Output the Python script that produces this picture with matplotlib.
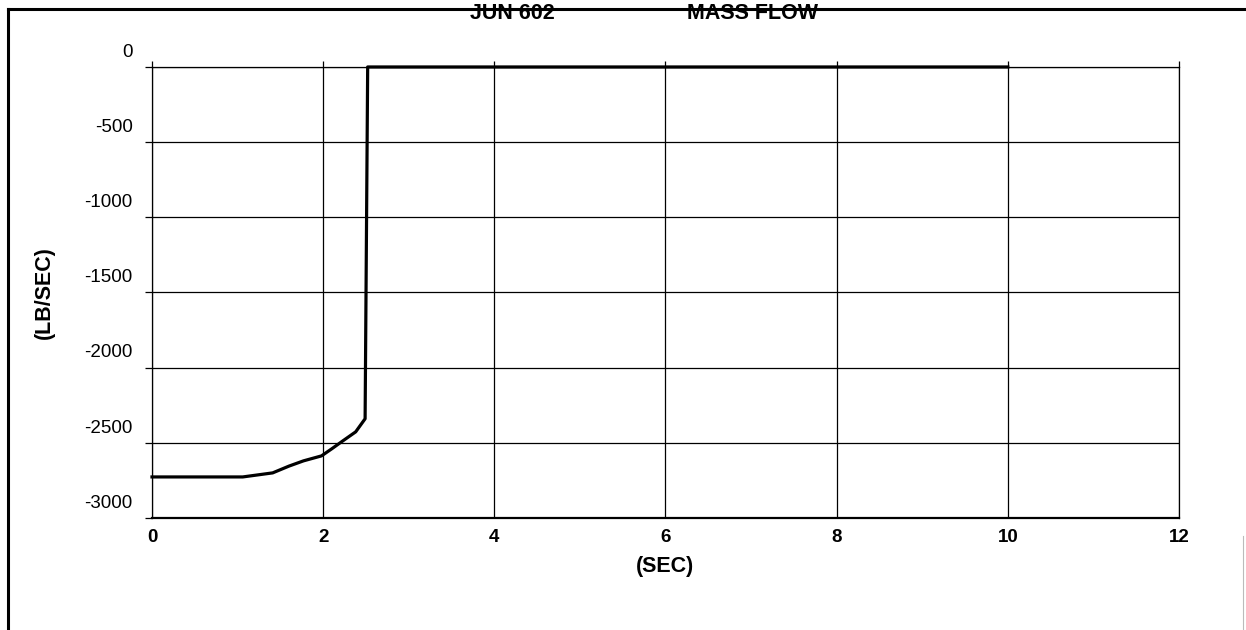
import matplotlib.pyplot as plt
import matplotlib.transforms as mtransforms
from matplotlib.lines import Line2D

plt.rcParams['font.family'] = ['Liberation Sans', 'DejaVu Sans']

# mass flow trace
time_s = [0.0, 0.5, 1.06, 1.41, 1.60, 1.77, 1.98, 2.10, 2.23, 2.38, 2.49, 2.52, 4.0, 6.0, 8.0, 10.0]
flow_lbs = [-2727, -2727, -2727, -2700, -2655, -2620, -2587, -2540, -2487, -2427, -2340, 0, 0, 0, 0, 0]

x_ticks = [0, 2, 4, 6, 8, 10, 12]
y_ticks = [0, -500, -1000, -1500, -2000, -2500, -3000]

fig = plt.figure(figsize=(12.46, 6.30), dpi=100)
ax = fig.add_axes([0.122, 0.1778, 0.8242, 0.7159])

ax.plot(time_s, flow_lbs, color='black', linewidth=2.3, solid_joinstyle='round',
        clip_on=False, zorder=3)

ax.set_xlim(0, 12)
ax.set_ylim(-3000, 0)
ax.set_xticks(x_ticks)
ax.set_yticks(y_ticks)
ax.set_yticklabels([str(v) for v in y_ticks])
ax.grid(True, color='black', linewidth=0.9)

for side in ['left', 'right', 'top']:
    ax.spines[side].set_linewidth(0.9)
ax.spines['bottom'].set_linewidth(1.6)

ax.tick_params(axis='x', bottom=False, top=True, direction='out', length=4, width=0.9,
               pad=4, labelsize=13.5)
ax.tick_params(axis='y', left=True, direction='out', length=5, width=0.9,
               pad=9, labelsize=13.5)
for lbl in ax.get_xticklabels():
    lbl.set_fontweight('bold')

# y labels sit above their gridlines in the original
shift = mtransforms.ScaledTranslation(0, 12 / 72, fig.dpi_scale_trans)
for lbl in ax.get_yticklabels():
    lbl.set_transform(lbl.get_transform() + shift)

ax.set_xlabel('(SEC)', fontsize=15.5, fontweight='bold')
ax.xaxis.set_label_coords(0.5, -0.085)
ax.set_ylabel('(LB/SEC)', fontsize=15.5, fontweight='bold')
ax.yaxis.set_label_coords(-0.0945, 0.5)

# page frame
fig.add_artist(Line2D([0.0064, 1.0], [0.986, 0.986], color='black', linewidth=2.2))
fig.add_artist(Line2D([0.0064, 0.0064], [0.0, 0.986], color='black', linewidth=2.2))
fig.add_artist(Line2D([0.9976, 0.9976], [0.0, 0.15], color='#bbbbbb', linewidth=0.8))

fig.text(0.411, 0.979, 'JUN 602', ha='center', va='center', fontsize=15.5, fontweight='bold')
fig.text(0.604, 0.979, 'MASS FLOW', ha='center', va='center', fontsize=15.5, fontweight='bold')

fig.savefig('out.png', dpi=100)
